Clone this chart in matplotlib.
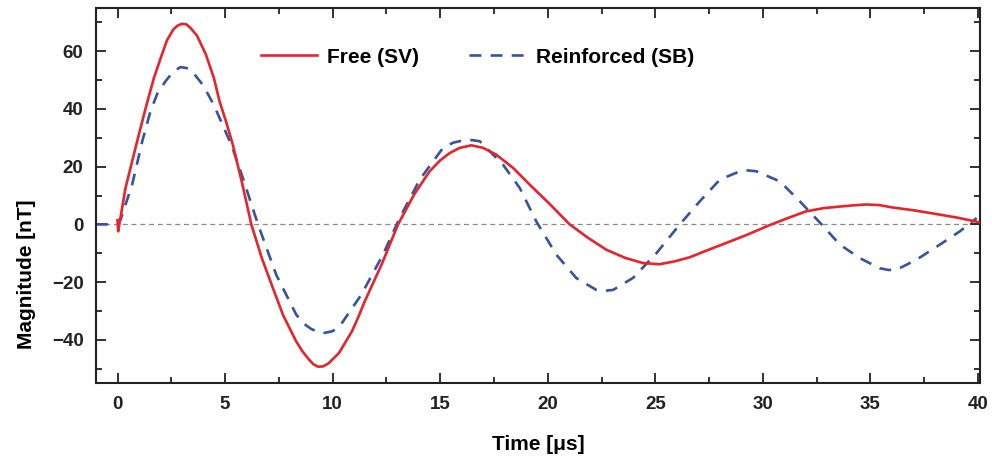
import numpy as np
import matplotlib
matplotlib.use('Agg')
import matplotlib.pyplot as plt
from matplotlib.ticker import MultipleLocator

# Free (SV) - red solid
t_free = [0.0, 0.03, 0.05, 0.37, 0.7, 0.99, 1.35, 1.69, 2.0, 2.3, 2.6, 2.8,
          3.0, 3.2, 3.4, 3.7, 4.1, 4.48, 4.74, 5.05, 5.36, 5.8, 6.22, 6.7,
          7.22, 7.7, 8.31, 8.6, 8.9, 9.1, 9.32, 9.55, 9.8, 10.3, 10.9, 11.2,
          11.49, 12.3, 13.04, 13.8, 14.51, 15.0, 15.44, 15.9, 16.45, 17.0,
          17.6, 18.4, 19.16, 20.1, 21.02, 21.9, 22.73, 23.6, 24.43, 25.2,
          25.9, 26.6, 27.3, 28.1, 29.2, 30.3, 31.2, 32.0, 32.8, 33.6, 34.2,
          34.8, 35.4, 36.0, 37.0, 37.9, 39.0, 40.1]
y_free = [1.5, -2.4, -1.5, 12.6, 22.5, 31.1, 41.5, 50.7, 57.5, 63.8, 67.6,
          68.9, 69.5, 69.3, 68.0, 65.3, 59.0, 50.7, 42.7, 35.5, 27.6, 14.0,
          0.0, -11.5, -22.0, -31.5, -40.6, -44.0, -46.8, -48.4, -49.3, -49.2,
          -48.2, -44.5, -37.0, -32.0, -26.7, -13.5, 0.0, 10.5, 18.4, 22.2,
          24.7, 26.5, 27.4, 26.5, 24.2, 19.5, 13.8, 7.0, 0.0, -4.8, -8.8,
          -11.6, -13.4, -13.8, -12.8, -11.4, -9.3, -7.0, -3.8, -0.3, 2.3,
          4.5, 5.6, 6.2, 6.6, 6.9, 6.7, 5.9, 4.9, 3.8, 2.4, 0.7]

# Reinforced (SB) - blue dashed
t_reinf = [-1.0, 0.0, 0.14, 0.68, 1.15, 1.53, 1.85, 2.23, 2.6, 2.93, 3.2,
           3.47, 4.0, 4.5, 5.29, 5.83, 6.53, 7.38, 8.31, 8.7, 9.0, 9.3, 9.55,
           10.0, 10.4, 11.33, 12.34, 13.1, 14.05, 15.13, 15.6, 16.06, 16.5,
           16.84, 17.92, 18.7, 19.47, 20.4, 21.33, 22.26, 22.65, 23.04, 23.97,
           25.05, 26.14, 27.07, 28.0, 28.93, 29.3, 29.7, 30.79, 31.72, 32.73,
           33.58, 34.51, 35.44, 35.85, 36.22, 37.15, 38.23, 39.16, 39.94]
y_reinf = [0.0, 0.0, 1.7, 13.8, 28.8, 39.2, 45.3, 49.6, 53.0, 54.5, 54.2,
           53.0, 48.0, 41.0, 27.6, 16.0, 0.0, -17.5, -31.3, -34.6, -36.2,
           -37.2, -37.7, -37.0, -34.5, -24.4, -10.5, 2.0, 15.5, 26.5, 28.3,
           29.1, 29.2, 28.8, 20.7, 12.6, 1.0, -10.5, -18.6, -22.7, -23.0,
           -22.7, -18.5, -10.0, 0.0, 8.0, 15.5, 18.4, 18.7, 18.4, 14.9, 8.0,
           0.0, -7.0, -11.7, -15.2, -15.8, -15.7, -12.2, -7.0, -2.4, 2.2]

labels = ['Free (SV)', 'Reinforced (SB)']

plt.rcParams['font.family'] = ['Liberation Sans', 'DejaVu Sans']
plt.rcParams['font.weight'] = 'bold'

fig = plt.figure(figsize=(9.92, 4.65), dpi=100)
ax = fig.add_axes([0.0968, 0.176, 0.8912, 0.807])

ax.axhline(0, color='#8a8a8a', lw=0.9, ls=(0, (4, 3)), zorder=1)
ax.plot(t_free, y_free, color='#e8232a', lw=1.9, label=labels[0], zorder=3)
ax.plot(t_reinf, y_reinf, color='#3553a5', lw=1.9, ls=(0, (4.5, 3.5)),
        label=labels[1], zorder=2)

ax.set_xlim(-1, 40.1)
ax.set_ylim(-55, 75)
ax.xaxis.set_major_locator(MultipleLocator(5))
ax.xaxis.set_minor_locator(MultipleLocator(2.5))
ax.yaxis.set_major_locator(MultipleLocator(20))
ax.yaxis.set_minor_locator(MultipleLocator(10))
ax.tick_params(which='both', direction='in', top=True, right=True,
               width=1.3, colors='#222222')
ax.tick_params(which='major', length=7, labelsize=13.5, pad=9)
ax.tick_params(which='minor', length=4)
for lab in ax.get_xticklabels() + ax.get_yticklabels():
    lab.set_family(['Liberation Sans Narrow', 'Liberation Sans'])
    lab.set_fontweight('bold')
for sp in ax.spines.values():
    sp.set_linewidth(1.5)
    sp.set_color('#222222')

ax.set_xlabel('Time [μs]', fontsize=15, fontweight='bold', labelpad=16)
ax.set_ylabel('Magnitude [nT]', fontsize=15, fontweight='bold')
ax.yaxis.set_label_coords(-0.068, 0.29)

ax.legend(loc='center left', bbox_to_anchor=(0.165, 0.869), ncol=2,
          frameon=False, handlelength=2.7, handletextpad=0.5,
          columnspacing=2.4, prop={'weight': 'bold', 'size': 15})

fig.savefig('out.png', dpi=100)
